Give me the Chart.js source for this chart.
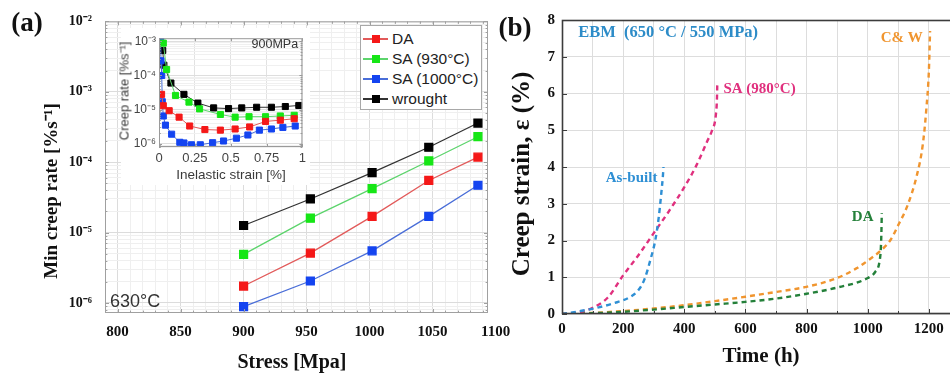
<!DOCTYPE html>
<html lang="en">
<head>
<meta charset="utf-8">
<title>Creep behaviour</title>
<script src="https://cdn.jsdelivr.net/npm/chart.js"></script>
<style>
  html, body { margin: 0; padding: 0; background: #fff; }
  body { width: 950px; height: 376px; overflow: hidden; position: relative; }
  .panel { position: absolute; }
  .txt { position: absolute; white-space: nowrap; line-height: 1; transform: translate(-50%, -50%); }
  .vert { transform: translate(-50%, -50%) rotate(-90deg); }
  .serif { font-family: "Liberation Serif", "Times New Roman", serif; font-weight: bold; color: #111; }
  .sans { font-family: "Liberation Sans", Arial, sans-serif; color: #3a3a3a; }
  #insetBg { position: absolute; left: 121px; top: 28px; width: 189px; height: 157px; background: #fff; }
  #legendA {
    position: absolute; left: 360px; top: 25px; width: 122px; height: 85px;
    box-sizing: border-box; border: 1px solid #a8a8a8; background: #fff; padding-top: 3px;
    font-family: "Liberation Sans", Arial, sans-serif; font-size: 15.5px; color: #222;
  }
  .row { display: flex; align-items: center; height: 20px; white-space: nowrap; }
  .swatch { position: relative; flex: none; width: 25px; height: 20px; margin-left: 2px; margin-right: 4px; }
  .swatch .ln { position: absolute; left: 0; right: 0; top: 9px; height: 1.5px; }
  .swatch .mk { position: absolute; left: 8.5px; top: 6px; width: 8px; height: 8px; }
</style>
</head>
<body>
<div class="panel" style="left:0;top:0;width:520px;height:376px"><canvas id="chartA"></canvas></div>
<div id="insetBg"></div>
<div class="panel" style="left:115px;top:28px;width:195px;height:140px"><canvas id="chartInset"></canvas></div>
<div class="panel" style="left:480px;top:0;width:520px;height:376px"><canvas id="chartB"></canvas></div>
<div id="legendA"></div>

<div class="txt serif" style="left:27px;top:22px;font-size:27px">(a)</div>
<div class="txt serif vert" style="left:50px;top:191px;font-size:19px">Min creep rate [%s⁻¹]</div>
<div class="txt serif" style="left:292px;top:361px;font-size:20px">Stress [Mpa]</div>
<div class="txt sans vert" style="left:124px;top:91px;font-size:13px">Creep rate [%s⁻¹]</div>
<div class="txt sans" style="left:231px;top:175px;font-size:13.5px">Inelastic strain [%]</div>
<div class="txt serif" style="left:515px;top:27px;font-size:27px">(b)</div>
<div class="txt serif vert" style="left:520px;top:174px;font-size:25px">Creep strain, ε (%)</div>
<div class="txt serif" style="left:761px;top:355px;font-size:21px">Time (h)</div>

<script>
// (a) minimum creep rate against stress, 630 °C
const stressMPa = [900, 953, 1002, 1047, 1086];
const stressTickLabels = [800, 850, 900, 950, 1000, 1050, 1100];
const rateDecades = [-6, -5, -4, -3, -2];
const minRateDA = [1.74e-6, 5.1e-6, 1.7e-5, 5.5e-5, 1.18e-4];
const minRateSA930 = [4.9e-6, 1.6e-5, 4.2e-5, 1.04e-4, 2.3e-4];
const minRateSA1000 = [8.9e-7, 2.05e-6, 5.5e-6, 1.7e-5, 4.7e-5];
const minRateWrought = [1.26e-5, 3.0e-5, 7.1e-5, 1.63e-4, 3.6e-4];

// inset: creep rate against inelastic strain at 900 MPa
const insetStrainDA = [0.018, 0.03, 0.071, 0.14, 0.214, 0.32, 0.428, 0.531, 0.632, 0.743, 0.846, 0.943];
const insetRateDA = [2.8e-5, 1.3e-5, 9.3e-6, 6.0e-6, 3.3e-6, 2.6e-6, 2.5e-6, 2.7e-6, 3.1e-6, 4.5e-6, 4.9e-6, 5.4e-6];
const insetStrainSA930 = [0.03, 0.053, 0.115, 0.209, 0.283, 0.428, 0.531, 0.628, 0.743, 0.846, 0.943];
const insetRateSA930 = [8.9e-4, 1.5e-4, 2.6e-5, 1.66e-5, 1.05e-5, 7.2e-6, 6.0e-6, 6.2e-6, 6.2e-6, 6.5e-6, 6.8e-6];
const insetStrainSA1000 = [0.012, 0.014, 0.019, 0.023, 0.03, 0.045, 0.088, 0.145, 0.174, 0.226, 0.288, 0.374, 0.45, 0.54, 0.62, 0.70, 0.784, 0.864, 0.95];
const insetRateSA1000 = [1.0e-3, 2.7e-4, 1.0e-4, 1.7e-5, 6.5e-6, 3.5e-6, 1.9e-6, 1.1e-6, 1.05e-6, 9.3e-7, 9.3e-7, 1.07e-6, 1.2e-6, 1.45e-6, 1.8e-6, 2.5e-6, 2.7e-6, 3.0e-6, 3.3e-6];
const insetStrainWrought = [0.026, 0.034, 0.083, 0.174, 0.271, 0.381, 0.485, 0.577, 0.681, 0.784, 0.881, 0.975];
const insetRateWrought = [5.4e-4, 2.0e-4, 6.0e-5, 2.8e-5, 1.55e-5, 1.12e-5, 1.07e-5, 1.12e-5, 1.17e-5, 1.17e-5, 1.23e-5, 1.32e-5];
const insetStrainTicks = [0, 0.25, 0.5, 0.75, 1];
const insetDecades = [-6, -5, -4, -3];

// (b) creep strain against time, EBM material at 650 °C / 550 MPa
const timeAsBuilt = [0, 60, 120, 180, 220, 250, 270, 290, 305, 316, 325, 330, 332];
const strainAsBuilt = [0, 0.08, 0.18, 0.32, 0.45, 0.65, 0.95, 1.5, 2.0, 2.6, 3.3, 3.75, 4.0];
const timeSA980 = [0, 50, 100, 150, 200, 250, 300, 350, 400, 440, 475, 491, 503, 507, 508];
const strainSA980 = [0, 0.04, 0.17, 0.45, 1.05, 1.6, 2.2, 2.8, 3.45, 4.05, 4.7, 5.0, 5.4, 5.9, 6.3];
const timeDA = [0, 100, 200, 300, 400, 500, 600, 700, 800, 900, 1000, 1025, 1038, 1043, 1045, 1046];
const strainDA = [0, 0.02, 0.06, 0.12, 0.19, 0.26, 0.33, 0.42, 0.55, 0.72, 0.98, 1.15, 1.4, 1.8, 2.3, 2.75];
const timeCW = [0, 100, 200, 300, 400, 500, 600, 700, 800, 900, 965, 1000, 1042, 1075, 1100, 1130, 1160, 1180, 1192, 1200, 1204];
const strainCW = [0, 0.03, 0.08, 0.15, 0.24, 0.35, 0.47, 0.6, 0.74, 0.98, 1.25, 1.45, 1.72, 2.02, 2.42, 2.95, 3.75, 4.6, 5.6, 6.6, 7.7];
const timeTickLabels = [0, 200, 400, 600, 800, 1000, 1200];

const SERIF = '"Liberation Serif", "Times New Roman", serif';
const SANS = '"Liberation Sans", Arial, sans-serif';

const seriesA = [
    { label: "DA", rates: minRateDA, strain: insetStrainDA, inset: insetRateDA, line: "#e25a5a", mark: "#f51818" },
    { label: "SA (930°C)", rates: minRateSA930, strain: insetStrainSA930, inset: insetRateSA930, line: "#5cd46c", mark: "#16e616" },
    { label: "SA (1000°C)", rates: minRateSA1000, strain: insetStrainSA1000, inset: insetRateSA1000, line: "#4a6ed8", mark: "#1444f0" },
    { label: "wrought", rates: minRateWrought, strain: insetStrainWrought, inset: insetRateWrought, line: "#333333", mark: "#000000" }
];

const seriesB = [
    { time: timeAsBuilt, strain: strainAsBuilt, color: "#2e8fd4" },
    { time: timeSA980, strain: strainSA980, color: "#e0307e" },
    { time: timeDA, strain: strainDA, color: "#24803a" },
    { time: timeCW, strain: strainCW, color: "#f0952f" }
];

const SUP = { "-": "⁻", "0": "⁰", "1": "¹", "2": "²", "3": "³", "4": "⁴", "5": "⁵", "6": "⁶", "7": "⁷", "8": "⁸", "9": "⁹" };
function pow10Label(e) {
    return "10" + String(e).split("").map(c => SUP[c]).join("");
}

function isDecade(v) {
    const e = Math.log10(v);
    return Math.abs(e - Math.round(e)) < 1e-9;
}

// 1..9 x 10^n grid ticks across the visible range
function logGridTicks(decades) {
    return (scale) => {
        const ticks = [];
        for (let e = decades[0] - 1; e <= decades[decades.length - 1]; e++) {
            for (let m = 1; m <= 9; m++) {
                const v = m * Math.pow(10, e);
                if (v >= scale.min * 0.999 && v <= scale.max * 1.001) ticks.push({ value: v });
            }
        }
        scale.ticks = ticks;
    };
}

function decadeLabel(decades) {
    return (v) => {
        if (!isDecade(v)) return "";
        const e = Math.round(Math.log10(v));
        return decades.includes(e) ? pow10Label(e) : "";
    };
}

// box around the plot area plus short inward tick marks
const framePlugin = {
    id: "frame",
    afterDraw(chart, args, opts) {
        const { ctx, chartArea: a, scales } = chart;
        ctx.save();
        ctx.strokeStyle = opts.color;
        ctx.lineWidth = opts.width;
        ctx.strokeRect(a.left + 0.5, a.top + 0.5, a.right - a.left - 1, a.bottom - a.top - 1);
        if (opts.tickLength) {
            ctx.lineWidth = 1;
            ctx.beginPath();
            scales.x.ticks.forEach(t => {
                const px = Math.round(scales.x.getPixelForValue(t.value)) + 0.5;
                const len = t.label ? opts.tickLength : opts.tickLength * 0.6;
                ctx.moveTo(px, a.bottom);
                ctx.lineTo(px, a.bottom - len);
                if (opts.mirror) {
                    ctx.moveTo(px, a.top);
                    ctx.lineTo(px, a.top + len);
                }
            });
            scales.y.ticks.forEach(t => {
                const py = Math.round(scales.y.getPixelForValue(t.value)) + 0.5;
                const len = t.label ? opts.tickLength : opts.tickLength * 0.6;
                ctx.moveTo(a.left, py);
                ctx.lineTo(a.left + len, py);
                if (opts.mirror) {
                    ctx.moveTo(a.right, py);
                    ctx.lineTo(a.right - len, py);
                }
            });
            ctx.stroke();
        }
        ctx.restore();
    }
};

// text placed at data coordinates
const notesPlugin = {
    id: "notes",
    afterDatasetsDraw(chart, args, opts) {
        const { ctx, scales: { x, y } } = chart;
        (opts.items || []).forEach(n => {
            ctx.save();
            ctx.font = n.font;
            ctx.fillStyle = n.color;
            ctx.textAlign = n.align || "left";
            ctx.textBaseline = "middle";
            ctx.fillText(n.text, x.getPixelForValue(n.x), y.getPixelForValue(n.y));
            ctx.restore();
        });
    }
};

const whiteBackground = {
    id: "whiteBackground",
    beforeDraw(chart) {
        const { ctx, chartArea: a } = chart;
        ctx.save();
        ctx.fillStyle = "#fff";
        ctx.fillRect(a.left, a.top, a.right - a.left, a.bottom - a.top);
        ctx.restore();
    }
};

Chart.register(framePlugin, notesPlugin);

// ---------- panel (a) ----------
new Chart(document.getElementById("chartA"), {
    type: "line",
    data: {
        datasets: seriesA.map(s => ({
            label: s.label,
            data: stressMPa.map((x, i) => ({ x, y: s.rates[i] })),
            borderColor: s.line,
            borderWidth: 1.3,
            backgroundColor: s.mark,
            pointBackgroundColor: s.mark,
            pointBorderColor: s.mark,
            pointStyle: "rect",
            pointRadius: 5.6,
            tension: 0
        }))
    },
    options: {
        responsive: true,
        maintainAspectRatio: false,
        animation: false,
        devicePixelRatio: 1,
        layout: { padding: { top: 20, right: 32, left: 0, bottom: 0 } },
        plugins: {
            legend: { display: false },
            tooltip: { enabled: false },
            frame: { color: "#a0a0a0", width: 1, tickLength: 4, mirror: true },
            notes: {
                items: [{ text: "630°C", x: 794, y: 1.02e-6, color: "#333", font: "18px " + SANS }]
            }
        },
        scales: {
            x: {
                type: "linear",
                min: 790,
                max: 1094,
                border: { display: false },
                grid: {
                    drawTicks: false,
                    color: c => (c.tick && c.tick.value % 50 === 0) ? "#dcdcdc" : "#efefef"
                },
                ticks: {
                    stepSize: 10,
                    includeBounds: false,
                    autoSkip: false,
                    maxRotation: 0,
                    padding: 10,
                    color: "#111",
                    font: { family: SERIF, weight: "bold", size: 15 },
                    callback: v => stressTickLabels.includes(v) ? String(v) : ""
                },
                afterFit: s => { s.height = 63; }
            },
            y: {
                type: "logarithmic",
                min: 7.2e-7,
                max: 1e-2,
                border: { display: false },
                afterBuildTicks: logGridTicks(rateDecades),
                grid: {
                    drawTicks: false,
                    color: c => (c.tick && isDecade(c.tick.value)) ? "#dcdcdc" : "#efefef"
                },
                ticks: {
                    autoSkip: false,
                    padding: 13,
                    color: "#111",
                    font: { family: SERIF, weight: "bold", size: 14 },
                    callback: decadeLabel(rateDecades)
                },
                afterFit: s => { s.width = 105; }
            }
        }
    },
    plugins: [{
        // stress labels that sit just past the right edge of the axis
        id: "outsideTicks",
        afterDraw(chart) {
            const x = chart.scales.x;
            const ctx = chart.ctx;
            ctx.save();
            ctx.font = "bold 15px " + SERIF;
            ctx.fillStyle = "#111";
            ctx.textAlign = "center";
            ctx.textBaseline = "middle";
            stressTickLabels.filter(v => v > x.max).forEach(v => {
                ctx.fillText(String(v), x.getPixelForValue(v), x.top + 10 + 9);
            });
            ctx.restore();
        }
    }]
});

// ---------- inset of panel (a) ----------
new Chart(document.getElementById("chartInset"), {
    type: "line",
    data: {
        datasets: seriesA.map(s => ({
            label: s.label,
            data: s.strain.map((x, i) => ({ x, y: s.inset[i] })),
            borderColor: s.line,
            borderWidth: 1,
            pointBackgroundColor: s.mark,
            pointBorderColor: s.mark,
            pointStyle: "rect",
            pointRadius: 4.3,
            tension: 0
        }))
    },
    options: {
        responsive: true,
        maintainAspectRatio: false,
        animation: false,
        devicePixelRatio: 1,
        layout: { padding: { top: 7, right: 6, left: 0, bottom: 0 } },
        plugins: {
            legend: { display: false },
            tooltip: { enabled: false },
            frame: { color: "#9a9a9a", width: 1, tickLength: 3, mirror: true },
            notes: {
                items: [{ text: "900MPa", x: 0.97, y: 8.0e-4, color: "#333", align: "right", font: "12.5px " + SANS }]
            }
        },
        scales: {
            x: {
                type: "linear",
                min: 0,
                max: 1,
                border: { display: false },
                grid: { drawTicks: false, color: "#e2e2e2" },
                ticks: {
                    stepSize: 0.25,
                    autoSkip: false,
                    maxRotation: 0,
                    padding: 4,
                    color: "#444",
                    font: { family: SANS, size: 13 },
                    callback: v => insetStrainTicks.includes(v) ? String(v) : ""
                },
                afterFit: s => { s.height = 21; }
            },
            y: {
                type: "logarithmic",
                min: 8.0e-7,
                max: 1.24e-3,
                border: { display: false },
                afterBuildTicks: logGridTicks(insetDecades),
                grid: {
                    drawTicks: false,
                    color: c => (c.tick && isDecade(c.tick.value)) ? "#dedede" : "#f0f0f0"
                },
                ticks: {
                    autoSkip: false,
                    padding: 3,
                    color: "#444",
                    font: { family: SANS, size: 12 },
                    callback: decadeLabel(insetDecades)
                },
                afterFit: s => { s.width = 44; }
            }
        }
    },
    plugins: [whiteBackground]
});

// ---------- panel (b) ----------
const blueNote = "#2d8cc8";
new Chart(document.getElementById("chartB"), {
    type: "line",
    data: {
        datasets: seriesB.map(s => ({
            data: s.time.map((x, i) => ({ x, y: s.strain[i] })),
            borderColor: s.color,
            borderWidth: 2.4,
            borderDash: [5, 4],
            pointRadius: 0,
            cubicInterpolationMode: "monotone"
        }))
    },
    options: {
        responsive: true,
        maintainAspectRatio: false,
        animation: false,
        devicePixelRatio: 1,
        layout: { padding: { top: 20, right: 10, left: 0, bottom: 0 } },
        plugins: {
            legend: { display: false },
            tooltip: { enabled: false },
            frame: { color: "#3c3c3c", width: 1.6, tickLength: 5, mirror: false },
            notes: {
                items: [
                    { text: "EBM  (650 °C / 550 MPa)", x: 53, y: 7.64, color: blueNote, font: "bold 16.5px " + SERIF },
                    { text: "SA (980°C)", x: 528, y: 6.12, color: "#e0307e", font: "bold 15px " + SERIF },
                    { text: "As-built", x: 312, y: 3.7, color: "#2e8fd4", align: "right", font: "bold 15px " + SERIF },
                    { text: "DA", x: 1019, y: 2.63, color: "#24803a", align: "right", font: "bold 15px " + SERIF },
                    { text: "C& W", x: 1180, y: 7.52, color: "#f0952f", align: "right", font: "bold 15px " + SERIF }
                ]
            }
        },
        scales: {
            x: {
                type: "linear",
                min: 0,
                max: 1400,
                border: { display: false },
                grid: { drawTicks: false, color: "#dddddd" },
                ticks: {
                    stepSize: 100,
                    autoSkip: false,
                    maxRotation: 0,
                    padding: 6,
                    color: "#111",
                    font: { family: SERIF, weight: "bold", size: 15 },
                    callback: v => timeTickLabels.includes(v) ? String(v) : ""
                },
                afterFit: s => { s.height = 62; }
            },
            y: {
                type: "linear",
                min: 0,
                max: 8,
                border: { display: false },
                grid: { drawTicks: false, color: "#dddddd" },
                ticks: {
                    stepSize: 1,
                    padding: 7,
                    color: "#111",
                    font: { family: SERIF, weight: "bold", size: 15 }
                },
                afterFit: s => { s.width = 82; }
            }
        }
    }
});

// legend of panel (a), built from the same series list
const legendBox = document.getElementById("legendA");
seriesA.forEach(s => {
    const row = document.createElement("div");
    row.className = "row";
    row.innerHTML = '<span class="swatch"><span class="ln" style="background:' + s.line + '"></span>' +
        '<span class="mk" style="background:' + s.mark + '"></span></span><span>' + s.label + "</span>";
    legendBox.appendChild(row);
});
</script>
</body>
</html>
